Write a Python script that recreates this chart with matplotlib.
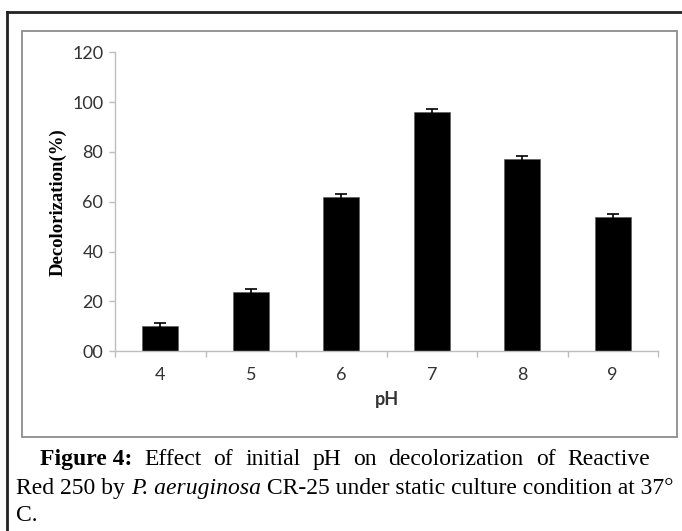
import matplotlib
matplotlib.use("Agg")
import matplotlib.pyplot as plt
from matplotlib.patches import Rectangle
from matplotlib.lines import Line2D
import numpy as np

# data
ph = ["4", "5", "6", "7", "8", "9"]
decolor = [10, 24, 62, 96, 77, 54]
err = [1.3, 1.2, 1.3, 1.4, 1.4, 1.3]
yticks = [0, 20, 40, 60, 80, 100, 120]
ytick_labels = ["00", "20", "40", "60", "80", "100", "120"]

W, H = 682, 531
fig = plt.figure(figsize=(W / 100, H / 100), dpi=100)


def px(x, y):
    # pixel coords from top-left -> figure fraction
    return x / W, 1 - y / H


# ===============================
# FRAMES
# ===============================
x0, y0 = px(21.7, 437)
x1, y1 = px(677, 30.7)
fig.patches.append(Rectangle((x0, y0), x1 - x0, y1 - y0, transform=fig.transFigure,
                             fill=False, edgecolor="#8c8c8c", linewidth=1.3))
ox, oy = px(7, 12)
fig.lines.append(Line2D([ox, ox], [0, oy], transform=fig.transFigure, color="#222222", lw=2))
fig.lines.append(Line2D([ox, 1], [oy, oy], transform=fig.transFigure, color="#222222", lw=2))

# ===============================
# BAR CHART
# ===============================
left, top = px(115, 52.3)
right, bottom = px(658, 351.3)
ax = fig.add_axes([left, bottom, right - left, top - bottom])

x = np.arange(len(ph))
ax.bar(x, decolor, width=0.4, color="black", edgecolor="#555555", linewidth=0.4,
       yerr=err, error_kw=dict(ecolor="black", elinewidth=1.2, capsize=4, capthick=1.2))

ax.set_xlim(-0.5, len(ph) - 0.5)
ax.set_ylim(0, 120)
ax.set_yticks(yticks)
ax.set_yticklabels(ytick_labels)
ax.set_xticks(x)
ax.set_xticklabels(ph)
ax.set_xticks(np.arange(len(ph) + 1) - 0.5, minor=True)

for s in ["top", "right"]:
    ax.spines[s].set_visible(False)
for s in ["left", "bottom"]:
    ax.spines[s].set_color("#bdbdbd")
    ax.spines[s].set_linewidth(1.0)

ax.tick_params(axis="y", length=4.5, width=1.0, color="#bdbdbd", labelsize=13,
               labelcolor="#333333", pad=4)
ax.tick_params(axis="x", which="major", length=0, labelsize=13, labelcolor="#333333", pad=11)
ax.tick_params(axis="x", which="minor", length=4.5, width=1.0, color="#bdbdbd")
for lab in ax.get_xticklabels() + ax.get_yticklabels():
    lab.set_family("Lato")

ax.set_xlabel("pH", family="Lato", fontweight="bold", fontsize=13, color="#333333", labelpad=6)
fig.text(58 / W, 1 - 202 / H, "Decolorization(%)", rotation=90, family="Liberation Serif",
         fontweight="bold", fontsize=13.5, ha="center", va="center")

# ===============================
# CAPTION
# ===============================
cap_size = 17
fig.canvas.draw()
renderer = fig.canvas.get_renderer()


def word(xp, yp, s, **kw):
    t = fig.text(xp / W, 1 - yp / H, s, family="Liberation Serif", fontsize=cap_size,
                 va="baseline", ha="left", **kw)
    return t


def width(t):
    return t.get_window_extent(renderer).width


# line 1 justified between 40 and 650
line1 = [("Figure 4:", "bold"), ("Effect", "normal"), ("of", "normal"), ("initial", "normal"),
         ("pH", "normal"), ("on", "normal"), ("decolorization", "normal"), ("of", "normal"),
         ("Reactive", "normal")]
texts = [word(0, 465, s, fontweight=w) for s, w in line1]
widths = [width(t) for t in texts]
gap = (650 - 40 - sum(widths)) / (len(texts) - 1)
xpos = 40
for t, w in zip(texts, widths):
    t.set_x(xpos / W)
    xpos += w + gap

# line 2
parts = [("Red 250 by ", "normal"), ("P. aeruginosa", "italic"),
         (" CR-25 under static culture condition at 37°", "normal")]
xpos = 16
for s, st in parts:
    t = word(xpos, 494, s, style=st)
    xpos += width(t)

word(16, 521, "C.")

fig.savefig("out.png", dpi=100)
